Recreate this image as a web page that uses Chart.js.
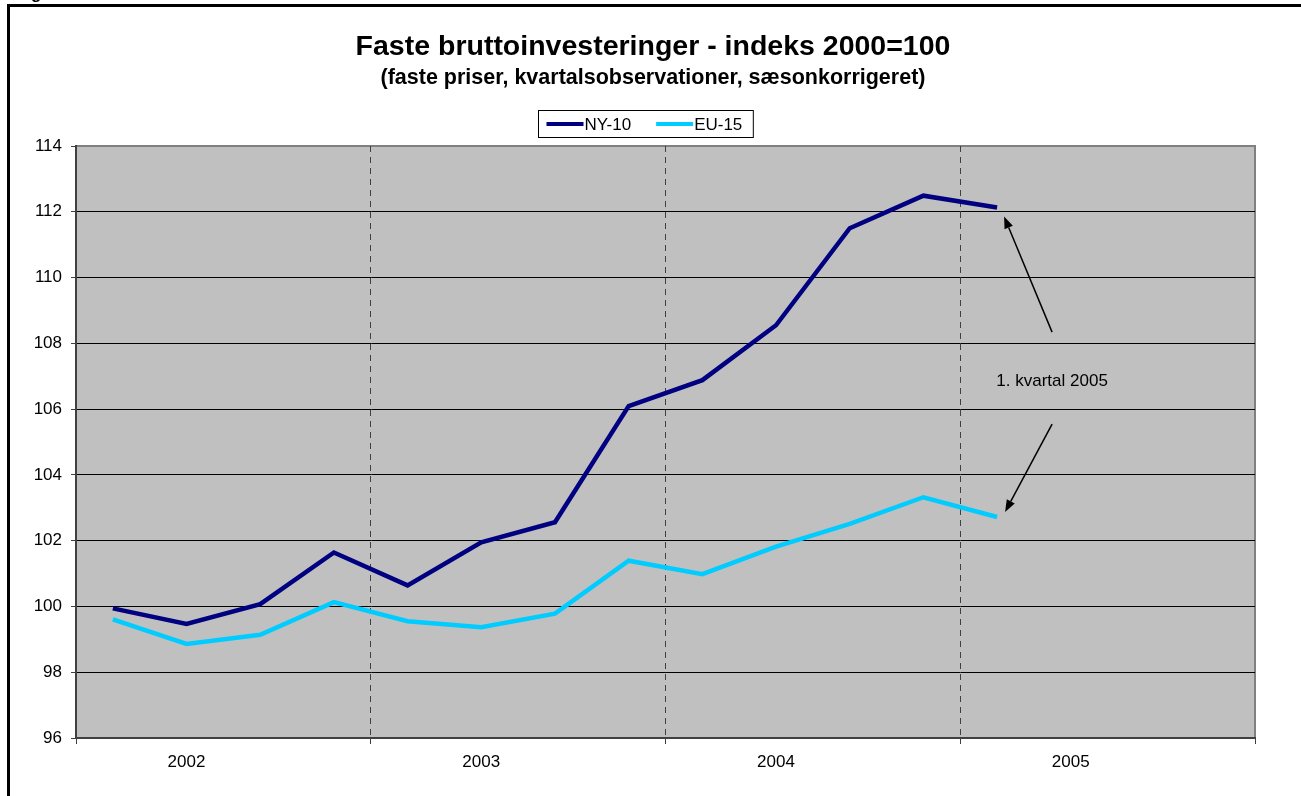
<!DOCTYPE html>
<html>
<head>
<meta charset="utf-8">
<style>
  html, body { margin: 0; padding: 0; background: #fff; }
  canvas { display: block; }
</style>
</head>
<body>
<canvas id="chart" width="1301" height="796"></canvas>
<script src="https://cdn.jsdelivr.net/npm/chart.js@4.4.0/dist/chart.umd.min.js"></script>
<script>
  // kvartaler 2002K1 - 2005K4, data til og med 2005K1
  const years = ["2002", "2003", "2004", "2005"];
  const quarterNames = ["K1", "K2", "K3", "K4"];
  const ny10 = [99.94, 99.47, 100.07, 101.64, 100.64, 101.95, 102.56, 106.09, 106.88, 108.55, 111.5, 112.49, 112.13];
  const eu15 = [99.61, 98.86, 99.14, 100.13, 99.55, 99.37, 99.78, 101.39, 100.98, 101.82, 102.51, 103.32, 102.72];
  const seriesNames = ["NY-10", "EU-15"];
  const seriesColors = ["#000080", "#00CCFF"];
  const noteText = "1. kvartal 2005";
  const noteLevel = 106.85; // hvor teksten står på y-aksen

  const labels = [];
  years.forEach(y => quarterNames.forEach(q => labels.push(y + " " + q)));

  const FONT = "Arial, 'Liberation Sans', sans-serif";
  Chart.defaults.font.family = FONT;
  Chart.defaults.color = "#000";

  // year boundary = every 4th grid line (last one has no tick context)
  function isYearEdge(ctx) {
    const i = ctx.index === undefined ? labels.length : ctx.index;
    return i % 4 === 0;
  }
  function isOuterEdge(ctx) {
    return ctx.index === undefined || ctx.index === 0;
  }

  const background = {
    id: "background",
    beforeDraw(chart) {
      const { ctx, chartArea: a } = chart;
      ctx.save();
      ctx.fillStyle = "#fff";
      ctx.fillRect(0, 0, chart.width, chart.height);
      // rest of the figure caption above the frame
      ctx.fillStyle = "#000";
      ctx.font = "bold 17px " + FONT;
      ctx.textBaseline = "alphabetic";
      ctx.fillText("Figur", 16, -1);
      // frame
      ctx.strokeStyle = "#000";
      ctx.lineWidth = 3;
      ctx.beginPath();
      ctx.moveTo(8.5, chart.height + 5);
      ctx.lineTo(8.5, 5.5);
      ctx.lineTo(chart.width + 5, 5.5);
      ctx.stroke();
      // plot area
      ctx.fillStyle = "#C0C0C0";
      ctx.fillRect(a.left, a.top, a.right - a.left, a.bottom - a.top);
      ctx.strokeStyle = "#808080";
      ctx.lineWidth = 2;
      ctx.beginPath();
      ctx.moveTo(a.left, a.top);
      ctx.lineTo(a.right, a.top);
      ctx.lineTo(a.right, a.bottom);
      ctx.stroke();
      ctx.restore();
    }
  };

  const boxedLegend = {
    id: "boxedLegend",
    afterDraw(chart) {
      const { ctx } = chart;
      const sets = chart.data.datasets;
      ctx.save();
      ctx.font = "17px " + FONT;
      const lineLen = 37, gap = 1, padL = 8, padR = 11, between = 25;
      let w = padL + padR + between * (sets.length - 1);
      sets.forEach(ds => { w += lineLen + gap + ctx.measureText(ds.label).width; });
      const h = 27;
      const x0 = Math.round(chart.width / 2 - 5 - w / 2) + 0.5;
      const y0 = 110.5;
      ctx.fillStyle = "#fff";
      ctx.fillRect(x0, y0, w, h);
      ctx.strokeStyle = "#000";
      ctx.lineWidth = 1;
      ctx.strokeRect(x0, y0, w, h);
      let x = x0 + padL;
      const yc = y0 + h / 2;
      sets.forEach(ds => {
        ctx.strokeStyle = ds.borderColor;
        ctx.lineWidth = 4;
        ctx.beginPath();
        ctx.moveTo(x, yc);
        ctx.lineTo(x + lineLen, yc);
        ctx.stroke();
        ctx.fillStyle = "#000";
        ctx.textBaseline = "middle";
        ctx.fillText(ds.label, x + lineLen + gap, yc + 1);
        x += lineLen + gap + ctx.measureText(ds.label).width + between;
      });
      ctx.restore();
    }
  };

  function arrow(ctx, x1, y1, x2, y2) {
    const ang = Math.atan2(y2 - y1, x2 - x1);
    const len = 12, half = 4.5;
    const bx = x2 - Math.cos(ang) * len, by = y2 - Math.sin(ang) * len;
    ctx.beginPath();
    ctx.moveTo(x1, y1);
    ctx.lineTo(bx, by);
    ctx.stroke();
    ctx.beginPath();
    ctx.moveTo(x2, y2);
    ctx.lineTo(bx + Math.sin(ang) * half, by - Math.cos(ang) * half);
    ctx.lineTo(bx - Math.sin(ang) * half, by + Math.cos(ang) * half);
    ctx.closePath();
    ctx.fill();
  }

  const lastQuarterNote = {
    id: "lastQuarterNote",
    afterDatasetsDraw(chart) {
      const { ctx } = chart;
      const p1 = chart.getDatasetMeta(0).data[ny10.length - 1];
      const p2 = chart.getDatasetMeta(1).data[eu15.length - 1];
      const tx = p1.x + 55;
      const ty = chart.scales.y.getPixelForValue(noteLevel);
      ctx.save();
      ctx.fillStyle = "#000";
      ctx.strokeStyle = "#000";
      ctx.lineWidth = 1.5;
      ctx.font = "17px " + FONT;
      ctx.textAlign = "center";
      ctx.textBaseline = "middle";
      ctx.fillText(noteText, tx, ty);
      arrow(ctx, tx, ty - 49, p1.x + 7, p1.y + 9);
      arrow(ctx, tx, ty + 43, p2.x + 8, p2.y - 5);
      ctx.restore();
    }
  };

  new Chart(document.getElementById("chart"), {
    type: "line",
    data: {
      labels: labels,
      datasets: [
        { label: seriesNames[0], data: ny10, borderColor: seriesColors[0], backgroundColor: seriesColors[0] },
        { label: seriesNames[1], data: eu15, borderColor: seriesColors[1], backgroundColor: seriesColors[1] }
      ]
    },
    options: {
      responsive: false,
      animation: false,
      elements: {
        line: { borderWidth: 4.5, tension: 0, borderJoinStyle: "miter" },
        point: { radius: 0, hoverRadius: 0 }
      },
      layout: { padding: { left: 5, right: 0, top: 0, bottom: 0 } },
      plugins: {
        legend: { display: false },
        tooltip: { enabled: false },
        title: {
          display: true,
          text: "Faste bruttoinvesteringer - indeks 2000=100",
          font: { size: 28.5, weight: "bold" },
          padding: { top: 30, bottom: 0 }
        },
        subtitle: {
          display: true,
          text: "(faste priser, kvartalsobservationer, sæsonkorrigeret)",
          font: { size: 21.5, weight: "bold" },
          color: "#000",
          padding: { top: 1, bottom: 55 }
        }
      },
      scales: {
        x: {
          type: "category",
          offset: true,
          afterFit(s) { s.height = 58; },
          grid: {
            offset: true,
            color: ctx => (isYearEdge(ctx) && !isOuterEdge(ctx)) ? "#404040" : "rgba(0,0,0,0)",
            lineWidth: 1,
            tickColor: ctx => isYearEdge(ctx) ? "#404040" : "rgba(0,0,0,0)",
            tickLength: 6,
            tickWidth: 1
          },
          border: { display: true, color: "#404040", width: 2, dash: [6, 5] },
          ticks: {
            autoSkip: false,
            maxRotation: 0,
            padding: 8,
            font: { size: 17 },
            color: "#000",
            callback: (v, i) => (i % 4 === 1 ? years[Math.floor(i / 4)] : "")
          }
        },
        y: {
          min: 96,
          max: 114,
          afterFit(s) { s.width = 71; },
          grid: {
            color: ctx => (ctx.tick && (ctx.tick.value === 96 || ctx.tick.value === 114)) ? "rgba(0,0,0,0)" : "#000",
            lineWidth: 1,
            tickColor: "#404040",
            tickLength: 5
          },
          border: { display: true, color: "#404040", width: 2 },
          ticks: { stepSize: 2, padding: 9, font: { size: 17 }, color: "#000" }
        },
        // empty right-hand strip so the plot stops short of the frame edge
        spacer: {
          type: "linear",
          position: "right",
          afterFit(s) { s.width = 46; },
          grid: { display: false, drawTicks: false },
          border: { display: false },
          ticks: { display: false }
        }
      }
    },
    plugins: [background, lastQuarterNote, boxedLegend]
  });
</script>
</body>
</html>
